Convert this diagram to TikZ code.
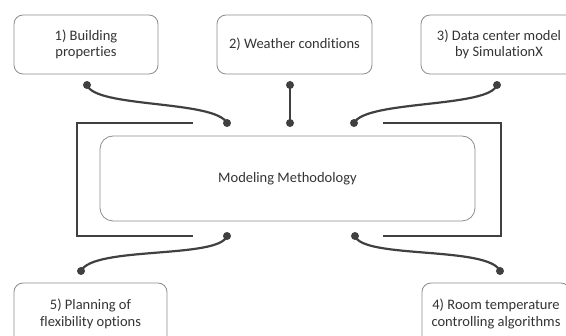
\documentclass[tikz,border=0pt]{standalone}
\usepackage{fontspec}
\setmainfont{Carlito}[Ligatures=CommonOff]
\begin{document}
\begin{tikzpicture}[x=1pt,y=-1pt,
  box/.style={draw=black!45, line width=0.8pt, rounded corners=9pt, align=center, font=\fontsize{14.5}{16.5}\selectfont, text=black!80, inner sep=0pt},
  conn/.style={draw=black!75, line width=2.2pt},
  brk/.style={draw=black!75, line width=2.2pt},
  dot/.style={fill=black!75}]
\useasboundingbox (0,0) rectangle (566,336);
\node[box, minimum width=144, minimum height=59] (b1) at (86,44.5) {1) Building\\properties};
\node[box, minimum width=155, minimum height=59] (b2) at (294.5,44.5) {2) Weather conditions};
\node[box, minimum width=156, minimum height=59] (b3) at (499,44.5) {3) Data center model\\by SimulationX};
\node[box, minimum width=153, minimum height=62] (b5) at (90.5,314) {5) Planning of\\flexibility options};
\node[box, minimum width=148, minimum height=62] (b4) at (496,314) {4) Room temperature\\controlling algorithms};
\node[box, rounded corners=13pt, minimum width=375, minimum height=85, font=\fontsize{14.5}{16.5}\selectfont] (mm) at (287.5,178.5) {Modeling Methodology};
% brackets
\draw[brk] (193,123) -- (77,123) -- (77,236) -- (193,236);
\draw[brk] (383,123) -- (501,123) -- (501,236) -- (383,236);
% dot coordinates
\coordinate (d1a) at (87,85);
\coordinate (d1b) at (227,123);
\coordinate (d2a) at (290,85);
\coordinate (d2b) at (290,123);
\coordinate (d3a) at (497,85);
\coordinate (d3b) at (354,123);
\coordinate (d5a) at (227,236);
\coordinate (d5b) at (81,271);
\coordinate (d4a) at (355,236);
\coordinate (d4b) at (500,271);
\draw[conn] (d1a) .. controls (95,108) and (215,100) .. (d1b);
\draw[conn] (d2a) -- (d2b);
\draw[conn] (d3a) .. controls (489,108) and (366,100) .. (d3b);
\draw[conn] (d5a) .. controls (219,259) and (93,246) .. (d5b);
\draw[conn] (d4a) .. controls (363,259) and (489,246) .. (d4b);
\foreach \d in {d1a,d1b,d2a,d2b,d3a,d3b,d5a,d5b,d4a,d4b}
  \fill[dot] (\d) circle (4);
\end{tikzpicture}
\end{document}
